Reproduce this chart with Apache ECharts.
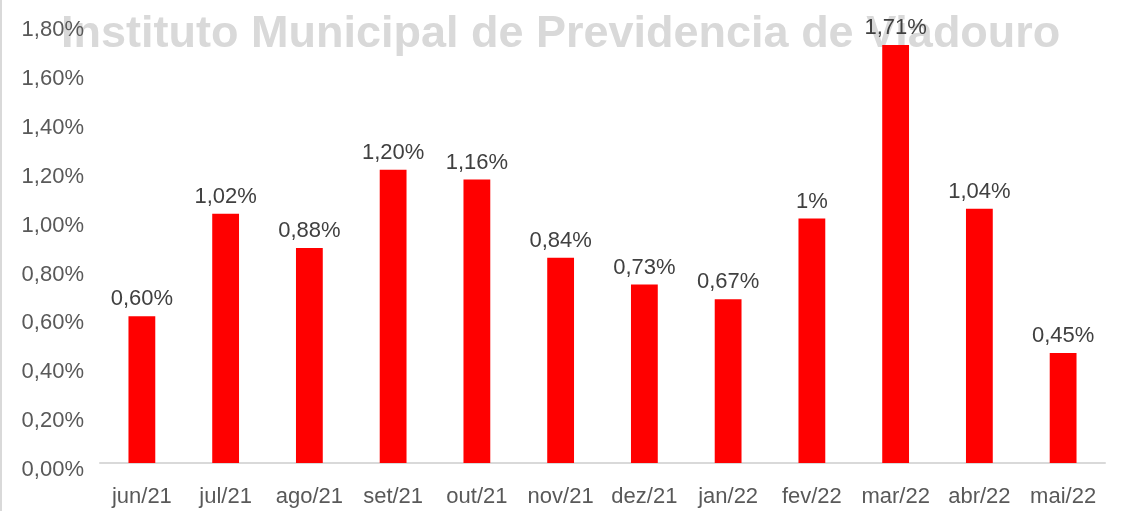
<!DOCTYPE html>
<html>
<head>
<meta charset="utf-8">
<script src="https://cdn.jsdelivr.net/npm/echarts@6/dist/echarts.min.js"></script>
<style>
  html, body { margin: 0; padding: 0; background: #fff; }
  #chart { width: 1129px; height: 511px; }
</style>
</head>
<body>
<div id="chart"></div>
<script>
// meses e taxas (%)
var months = ['jun/21', 'jul/21', 'ago/21', 'set/21', 'out/21', 'nov/21', 'dez/21', 'jan/22', 'fev/22', 'mar/22', 'abr/22', 'mai/22']
var rates = [0.60, 1.02, 0.88, 1.20, 1.16, 0.84, 0.73, 0.67, 1.00, 1.71, 1.04, 0.45]
var rateLabels = ['0,60%', '1,02%', '0,88%', '1,20%', '1,16%', '0,84%', '0,73%', '0,67%', '1%', '1,71%', '1,04%', '0,45%']

var chart = echarts.init(document.getElementById('chart'))
var option = {
  animation: false,
  textStyle: { fontFamily: 'Liberation Sans, Arial, sans-serif' },
  title: {
    text: 'Instituto Municipal de Previdencia de Viadouro',
    left: 56,
    top: 7,
    z: 0,
    textStyle: {
      fontSize: 45,
      fontWeight: 'bold',
      color: '#d9d9d9',
      fontFamily: 'Liberation Sans, Arial, sans-serif'
    }
  },
  graphic: [{
    type: 'rect',
    shape: { x: 0, y: 0, width: 2, height: 511 },
    style: { fill: '#d9d9d9' }
  }],
  grid: { left: 100, right: 24, top: 23, bottom: 48 },
  xAxis: {
    type: 'category',
    data: months,
    axisLine: { lineStyle: { color: '#d9d9d9', width: 2 } },
    axisTick: { show: false },
    axisLabel: { color: '#595959', fontSize: 22, margin: 23, interval: 0 }
  },
  yAxis: {
    type: 'value',
    min: 0,
    max: 1.8,
    interval: 0.2,
    splitLine: { show: false },
    axisLine: { show: false },
    axisTick: { show: false },
    axisLabel: {
      color: '#595959',
      fontSize: 22,
      margin: 16,
      verticalAlign: 'top',
      lineHeight: 14,
      formatter: function (v) { return v.toFixed(2).replace('.', ',') + '%' }
    }
  },
  series: [{
    type: 'bar',
    data: rates,
    barWidth: '32%',
    z: 3,
    itemStyle: { color: '#ff0000' },
    label: {
      show: true,
      position: 'top',
      distance: 6,
      color: '#404040',
      fontSize: 22,
      formatter: function (p) { return rateLabels[p.dataIndex] }
    }
  }]
}
chart.setOption(option)
</script>
</body>
</html>
